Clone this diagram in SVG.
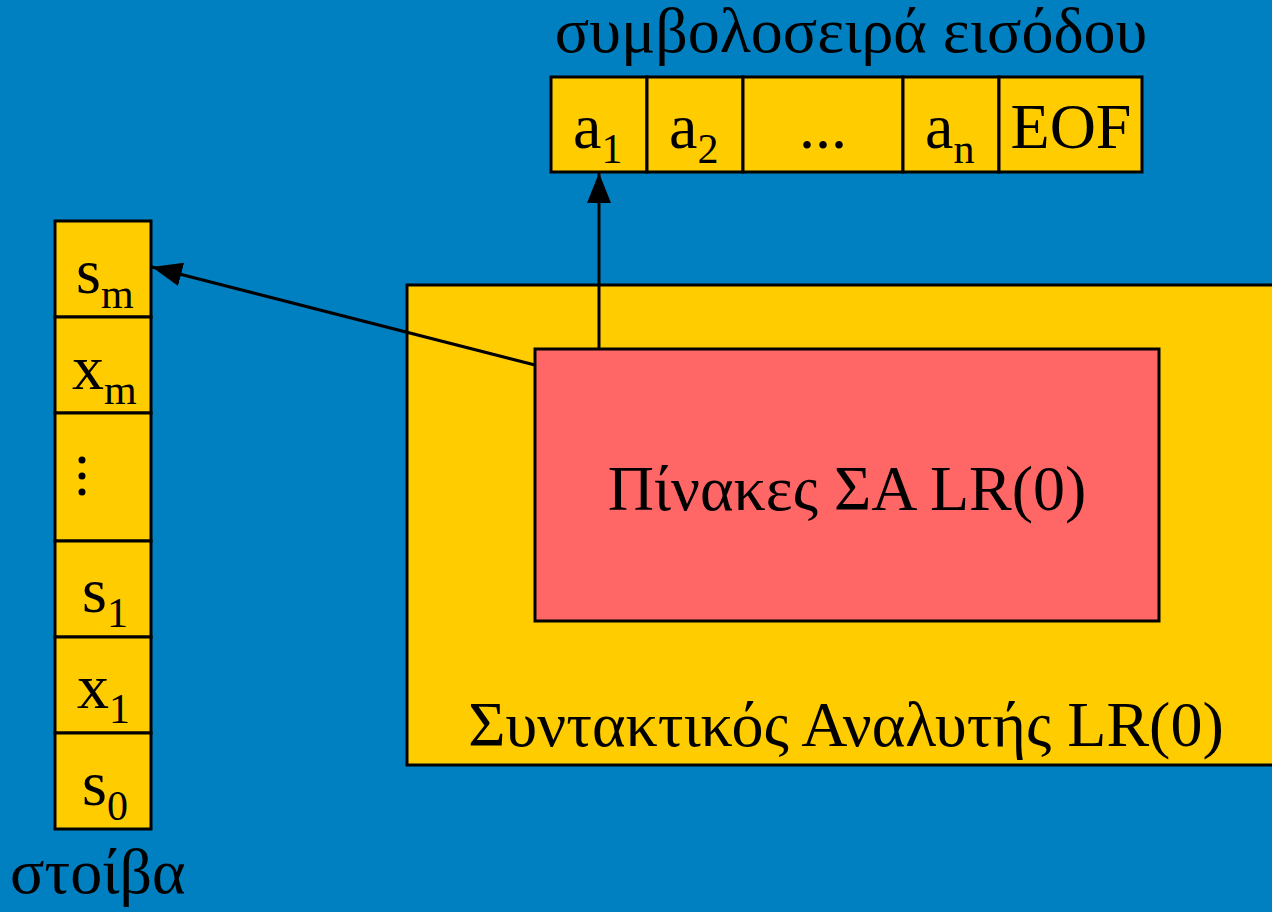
<svg xmlns="http://www.w3.org/2000/svg" width="1272" height="912" viewBox="0 0 1272 912">
<defs>
<style>
.t{font-family:"Liberation Serif","Times New Roman",serif;fill:#000}
.cell{fill:#FFCC00;stroke:#000;stroke-width:3}
.big{font-size:64px}
.sub{font-size:42px}
.conn{stroke:#000;stroke-width:3;fill:none}
</style>
<marker id="ah2" viewBox="0 0 30 24" refX="30" refY="12" markerWidth="30" markerHeight="24" markerUnits="userSpaceOnUse" orient="auto">
<path d="M0,0 L30,12 L0,24 z" fill="#000"/>
</marker>
</defs>
<rect width="1272" height="912" fill="#0080C0"/>

<g id="parser">
<rect x="407" y="285" width="870" height="480" fill="#FFCC00" stroke="#000" stroke-width="3"/>
<text class="t big" x="846" y="746" text-anchor="middle">Συντακτικός Αναλυτής LR(0)</text>
</g>

<g id="tables">
<rect x="535" y="349" width="624" height="272" fill="#FF6666" stroke="#000" stroke-width="3"/>
<text class="t big" x="847" y="510" text-anchor="middle">Πίνακες ΣΑ LR(0)</text>
</g>

<g id="input">
<text class="t big" x="851" y="52" text-anchor="middle">συμβολοσειρά εισόδου</text>
<rect class="cell" x="551" y="77" width="96" height="95"/>
<rect class="cell" x="647" y="77" width="96" height="95"/>
<rect class="cell" x="743" y="77" width="160" height="95"/>
<rect class="cell" x="903" y="77" width="96" height="95"/>
<rect class="cell" x="999" y="77" width="143" height="95"/>
<text class="t big" x="573" y="148">a<tspan class="sub" dy="15">1</tspan></text>
<text class="t big" x="669" y="148">a<tspan class="sub" dy="15">2</tspan></text>
<text class="t big" x="823" y="148" text-anchor="middle">...</text>
<text class="t big" x="925" y="148">a<tspan class="sub" dy="15">n</tspan></text>
<text class="t big" x="1071" y="148" text-anchor="middle">EOF</text>
</g>

<g id="stack">
<rect class="cell" x="55" y="221" width="96" height="96"/>
<rect class="cell" x="55" y="317" width="96" height="96"/>
<rect class="cell" x="55" y="413" width="96" height="128"/>
<rect class="cell" x="55" y="541" width="96" height="96"/>
<rect class="cell" x="55" y="637" width="96" height="96"/>
<rect class="cell" x="55" y="733" width="96" height="96"/>
<text class="t big" x="76" y="293">s<tspan class="sub" dy="15">m</tspan></text>
<text class="t big" x="72" y="389">x<tspan class="sub" dy="15">m</tspan></text>
<circle cx="82" cy="460" r="3.5" fill="#000"/>
<circle cx="82" cy="476" r="3.5" fill="#000"/>
<circle cx="82" cy="492" r="3.5" fill="#000"/>
<text class="t big" x="82" y="612">s<tspan class="sub" dy="15">1</tspan></text>
<text class="t big" x="77" y="708">x<tspan class="sub" dy="15">1</tspan></text>
<text class="t big" x="82" y="805">s<tspan class="sub" dy="15">0</tspan></text>
<text class="t big" x="10" y="893">στοίβα</text>
</g>

<g id="connectors">
<line class="conn" x1="599" y1="349" x2="599" y2="173" marker-end="url(#ah2)"/>
<line class="conn" x1="535" y1="365" x2="152" y2="267" marker-end="url(#ah2)"/>
</g>
</svg>
